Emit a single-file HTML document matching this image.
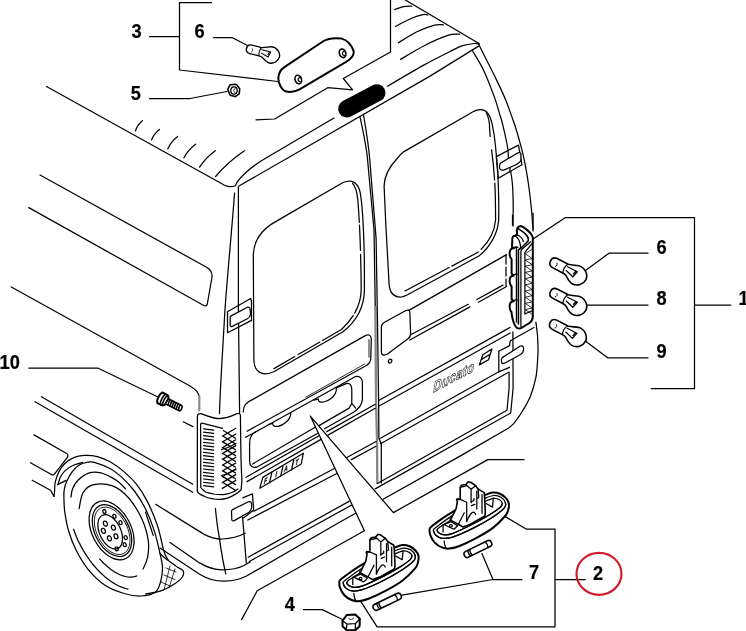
<!DOCTYPE html>
<html><head><meta charset="utf-8"><title>Diagram</title>
<style>
html,body{margin:0;padding:0;background:#fff;}
body{width:746px;height:631px;overflow:hidden;}
svg{display:block;}
text{filter:grayscale(1);}
.ln path,.ln line,.ln ellipse,.ln circle,.ln polyline{fill:none;stroke:#000;stroke-width:1.25;stroke-linecap:round;stroke-linejoin:round;}
.lb{font-family:"Liberation Sans",Arial,sans-serif;font-weight:bold;font-size:19.4px;fill:#000;stroke:#000;stroke-width:0.2px;}
.tk{stroke-width:2 !important;}
.md{stroke-width:1.6 !important;}
.th{stroke-width:0.8 !important;}
.wf{fill:#fff !important;}
.fiat{font-family:"Liberation Sans",Arial,sans-serif;font-weight:bold;font-size:6.2px;fill:#000;stroke:#000;stroke-width:0.25;}
.duc{font-family:"Liberation Sans",Arial,sans-serif;font-weight:bold;font-style:italic;font-size:13px;letter-spacing:0.45px;fill:#fff;stroke:#222;stroke-width:0.6;}
</style></head><body>
<svg width="746" height="631" viewBox="0 0 746 631">
<rect width="746" height="631" fill="#fff"/>
<g class="ln">
<path d="M211.5,2.5 H179.5 V70 L277.5,81.5"/>
<path d="M149.5,36.5 H179.5"/>
<path d="M213.5,37.5 H232 L249.5,46.5"/>
<path d="M149.5,98.5 H190 L227,91.5"/>
<path d="M256,119.8 L274.7,119 L327.7,87.7 L352.6,89.8 L343.3,78.5 L390.5,52 V0"/>
<path d="M533.1,239.1 L565.5,217.5 H694.5 V388.5 H651.2"/>
<path d="M694.5,305 H730.7"/>
<path d="M648,253.2 H609 L586.2,270"/>
<path d="M648,305.2 H587"/>
<path d="M648,357.9 H608 L585.3,341"/>
<path d="M28.8,368 H97.7 L159,397.5"/>
<path d="M303.5,609.6 H322.3 L342.5,619.5"/>
<path d="M521.9,579.5 H493 L481.9,553.6 M493,579.5 L402,595.1"/>
<path d="M505.2,516.6 L526.5,529.2 H555 V626.8 H377.1 L356.2,594.3"/>
<path d="M555,579.5 H585.3"/>
</g>
<text transform="translate(131.5,38) scale(0.94,1)" x="0" y="0" text-anchor="start" class="lb">3</text>
<text transform="translate(194.5,38) scale(0.94,1)" x="0" y="0" text-anchor="start" class="lb">6</text>
<text transform="translate(130.8,100) scale(0.94,1)" x="0" y="0" text-anchor="start" class="lb">5</text>
<text transform="translate(-0.5,369) scale(0.94,1)" x="0" y="0" text-anchor="start" class="lb">10</text>
<text transform="translate(656.5,253.7) scale(0.94,1)" x="0" y="0" text-anchor="start" class="lb">6</text>
<text transform="translate(656.5,304.6) scale(0.94,1)" x="0" y="0" text-anchor="start" class="lb">8</text>
<text transform="translate(656.5,358) scale(0.94,1)" x="0" y="0" text-anchor="start" class="lb">9</text>
<text transform="translate(738.5,304.6) scale(0.94,1)" x="0" y="0" text-anchor="start" class="lb">1</text>
<text transform="translate(529,578.8) scale(0.94,1)" x="0" y="0" text-anchor="start" class="lb">7</text>
<text transform="translate(593,579.5) scale(0.94,1)" x="0" y="0" text-anchor="start" class="lb">2</text>
<text transform="translate(284.7,611.3) scale(0.94,1)" x="0" y="0" text-anchor="start" class="lb">4</text>
<ellipse cx="599" cy="573.8" rx="22.5" ry="21" fill="none" stroke="#cf1f2e" stroke-width="2.2"/>
<g class="ln">
<path d="M46.5,86.5 L224.6,185.2 Q230,187.8 235,186"/>
<path d="M142.4,120.7 Q137.474,124.647 135.5,130.8"/>
<path d="M159.5,129.4 Q153.98000000000002,133.535 151.5,139.9"/>
<path d="M177.6,136.4 Q171.054,141.475 167.7,148.9"/>
<path d="M195.6,144.2 Q188.08200000000002,149.792 183.9,157.8"/>
<path d="M215.3,150.7 Q205.62199999999999,157.65499999999997 199.6,167.2"/>
<path d="M244.4,150.7 Q227.64800000000002,162.02599999999998 215.6,176.5"/>
<path d="M235.5,185.5 C238,178 252,166 266,158 L334,118"/>
<path d="M387.4,86.3 C393.5,82.7 413.8,70.7 424.2,64.9 C434.6,59.1 443.6,54.7 450.0,51.5 C456.4,48.3 458.5,47.0 462.6,45.7 C466.7,44.4 471.7,43.8 474.4,43.5 C477.1,43.2 478.1,44.1 478.8,44.2"/>
<path d="M238.5,186.3 L430,76.1 L479,45.9"/>
<path d="M405.3,0 L479,43.5"/>
<path d="M394.7,9.6 C396.2,9.1 400.8,7.2 403.6,6.6 C406.4,6.0 410.4,6.3 411.7,6.2"/>
<path d="M395.5,26.5 C397.8,25.3 404.9,21.2 409.5,19.2 C414.1,17.2 419.7,15.4 422.8,14.7 C425.9,14.0 427.0,14.9 427.9,15.0"/>
<path d="M398.4,42.8 C401.5,40.9 410.9,34.6 416.9,31.7 C422.9,28.8 430.2,26.2 434.6,25.1 C439.0,24.0 441.9,24.9 443.4,24.8"/>
<path d="M400.6,59.4 C404.5,57.1 416.3,49.7 424.2,45.7 C432.1,41.7 441.9,37.3 447.8,35.4 C453.7,33.5 457.6,34.4 459.6,34.2"/>
<path d="M479.0,43.5 C479.2,44.2 477.7,42.1 480.3,47.5 C482.9,52.9 490.3,67.0 494.5,75.8 C498.7,84.5 502.4,91.9 505.7,100.0 C509.0,108.1 512.0,116.9 514.5,124.3 C517.0,131.7 518.9,138.4 520.5,144.5 C522.1,150.6 523.0,153.8 524.4,160.6 C525.8,167.3 527.4,176.8 528.6,185.0 C529.8,193.2 530.8,202.3 531.5,210.0 C532.2,217.7 532.8,227.5 533.1,231.0"/>
<path d="M472.2,50.2 C474.1,53.6 480.0,62.5 483.7,70.4 C487.4,78.3 491.8,90.0 494.5,97.4 C497.2,104.8 498.6,110.8 499.9,115.0 C501.2,119.2 501.1,118.0 502.3,122.9 C503.5,127.8 506.0,138.9 507.1,144.5 C508.2,150.1 508.2,152.6 508.8,156.6 C509.4,160.6 509.8,164.0 510.4,168.7 C511.0,173.4 512.0,178.9 512.5,185.0 C513.0,191.1 513.1,198.2 513.2,205.0 C513.3,211.8 513.0,222.5 513.0,226.0"/>
<path class="wf" d="M496.3,156.6 L518.5,145.1 L521.9,164.7 L498.3,178.2 Z"/>
<path d="M508,150.6 L508.4,157.5 M509.6,172 L510.2,168"/>
<path class="wf" d="M500.3,163.3 L517.2,153.2 C519.5,152.3 520.7,152.7 520.9,153.9 L520.9,160.6 C519,163.5 516,164.8 513.1,166 L503.7,170.1 C501.5,170.5 500,169.8 499.6,168.1 C499.4,166 499.6,164.3 500.3,163.3 Z"/>
</g>
<line x1="346.9" y1="108.8" x2="376.8" y2="92.9" stroke="#000" stroke-width="17.4" stroke-linecap="round"/>
<g class="ln">
<path d="M40,175 L207,267.5 Q212.5,271 212,277 L207.3,304 Q206.5,307.5 202,304.5 L28.8,207.6"/>
<path d="M11.3,287 L190,386 Q198.5,391 199.3,397"/>
<path d="M199.3,396 V410.5" style="stroke:#8a8a8a;stroke-width:2.2"/>
<path d="M41.4,396.7 L192.7,484.2"/>
<path d="M35,401.7 L192.7,492.3"/>
<path d="M183.2,421.8 L192.9,426.6"/>
<path d="M238.4,186.8 V308 L239.6,412.5"/>
<path d="M234.6,193 C231,240 226,290 224.6,316 S220,390 219.5,413.5"/>
</g>
<g class="ln">
<path d="M253.3,254.4 C254,240 262,229 276.5,221.1 L343,182.5 C352,178.5 358,183 360.1,192.2 C362.5,205 364,240 364.4,263 V290 C364.2,305 358,320 343,331.8 L274.3,371.5 C262,377 254.5,372 253.9,360.8 Z"/>
<path d="M352.6,183.5 C355.5,186 357,192 357.8,200 C360,225 361,260 361.2,290 C361,303 355,317 341.5,329.5 L274,368.6" stroke-dasharray="40 3 25 4 60 3"/>
<path d="M404,151.6 L470,113.5 C474,111 478,109.6 480.8,109.7 C484,109.8 486,110.8 487.5,112.8 C490,116 491.3,120 492.2,124.3 C494,132 495,140 495.6,147.2 C497,160 498,175 498.3,185 C498.8,200 499,210 498.6,220.7 C497.5,234 490,247 479.3,255.7 L408,294.5 C406,295.5 404,296.5 401.6,297 C394,297.5 390,294 389.1,284.4 L385.8,224.3 L384.1,186 C384.3,176 388,168 397.6,158 C399.5,155.5 401.5,153.5 404,151.6 Z"/>
<path d="M405,291 L477.5,252.5 C487.5,244.5 494.5,232.5 495.6,220 C495.5,200 495.3,192 494.9,185 C494,170 493,160 491.6,149.9 M490.2,136.4 C489.8,130 489.3,127 489.5,124.3 C488.8,119 487.8,115.5 486.2,112.8" stroke-dasharray="50 3 30 4 70 3"/>
<path d="M359.9,116.3 C364,135 367,152 367.6,160 L374,230 L375.3,310"/>
<path d="M375.4,306 L376,400 L377,440 L377.3,483" style="stroke:#858585;stroke-width:2.3;stroke-linecap:butt"/>
<path d="M363.6,115.5 C367,135 369,150 369.8,160 L376.1,238.6 L377.3,310 L378.6,400 L378.9,438 L381.3,444 L381.3,483"/>
<path d="M243.3,412 C243,405 247,402 252.9,399.4 L364.4,336.1 C369,333.8 371.2,335 371.3,339.3 L370.8,358.6 C370.5,362 369,364 366,365.8 L247,431.2"/>
<path class="th" d="M364.8,364 L305.7,397.2"/>
<path d="M369,340 V357" style="stroke:#858585;stroke-width:1.8"/>
<path d="M255.5,432 L355.1,376.7 C359,375.6 361.8,377.5 362.4,381.5 L362.4,399.6 C362,404.5 359,408.5 353.6,412.2 L324.5,428.8"/>
<path d="M255.5,432 C251,434.5 249.6,438 249.6,443 V461.6 C249.8,466.5 252.5,468.2 257.4,466.8 L317.8,433.3"/>
<path d="M245.5,437.3 L255.5,432"/>
<path d="M337,387.6 L346.7,383.4 C350,382.8 351.6,385 351.8,390 V403.3 L355.7,408.1 M351.8,403.3 L349.1,408.1 L319,425.6"/>
<path d="M252.5,464 L315.5,427"/>
<path d="M246.1,477.3 L319.4,435.5 M247,481.6 L321,439.4"/>
<path d="M314.1,400.2 L318.4,399 C318.2,400.5 318.5,401.2 319.5,401.6 C321,402.3 322.5,402.3 323.8,402 C327,401.2 329,400 331,398.4 C333,397 334.3,395.3 335.2,393.6 C336.2,391.5 336.5,390 336.4,388.2"/>
<path d="M268.5,424.5 L272.8,423.3 C272.6,424.8 272.9,425.5 273.9,425.9 C275.4,426.6 276.9,426.6 278.2,426.3 C281.4,425.5 283.4,424.3 285.4,422.7 C287.4,421.3 288.7,419.6 289.6,417.9 C290.6,415.8 290.9,414.3 290.8,412.5"/>
<path d="M347.3,457.3 L376,441.5 M351.3,459.6 L376,446.3"/>
<path d="M381.4,327 C381.4,324.5 382.5,323.3 384.5,322.2 L405,311 C408.5,309.3 409.9,310 409.9,313 L410.6,334 C410.6,336.5 410,337.5 408,338.7 L387.5,354 C384,356 381.4,355 381.4,352.4 Z"/>
<ellipse cx="390.1" cy="361.1" rx="1.6" ry="2" transform="rotate(25 390.1 361.1)"/>
<path d="M408.9,310.4 L506.5,254.6"/>
<path d="M410.7,334.8 L468.2,304.3 M476.9,299.5 L503,285.1 M409.8,340 L469.9,306.9 M478.5,302.2 L506.5,286.5"/>
<path d="M379.1,400.3 L510.2,327.3 M379.1,406 L510.2,333"/>
<path d="M326.8,431.6 L375.3,404.3 M328,435.1 L375.3,408.3"/>
<path d="M379.1,439 L498.8,371.8"/>
<path d="M380.5,443.8 L509.1,372 L509.1,388.2 L507,410.3 L377,483.7"/>
<path d="M512.9,331.9 L513.1,388.2 L510.7,413 L375.2,488.9"/>
<path d="M535.9,322.2 C538,335 538.8,345 537.6,360 C537.3,366 537,371 536,376.9 C534.5,385 532.5,391 530.3,396.7 C527,404 524,409 520.3,414.5 C517.5,418.5 515.5,421.5 513.1,424.1 C511,426.3 509,427.8 507,429 L460,456.1 L383.1,499.3"/>
<path d="M498.8,351.3 V371.8 L509.5,367.3 M498.8,351.3 L509.5,345.6 L510.2,341 L516,337.5 L534,327.5"/>
<path class="wf" d="M502.2,357.6 L519.9,346.3 C522,345.3 523.5,346 523.6,348.7 C523.8,352 523,353 520.5,354.5 L504.6,363.2 C502.5,364 501.7,363.5 501.5,361.6 C501.3,359.5 501.5,358.3 502.2,357.6 Z"/>
<path d="M479.4,364.9 L482.8,354.7 L491.9,349 L488.5,359.7 Z M481.2,359.6 L490.2,354.2"/>
</g>
<text class="duc" transform="translate(433.2,392.6) rotate(-27.9) skewX(-30)" x="0" y="0">Ducato</text>
<g class="ln">
<path d="M253.9,511.3 L337.6,466.8 M247.8,520 L341.1,471.2"/>
<path d="M248.2,557.2 L349,501.4 M249.3,561.5 L352.3,504.7"/>
<path d="M242.6,517.4 L244.1,535.6 L246.3,562.9"/>
<path d="M155.7,504.3 L204.2,534.4 C212,538.5 217,539.2 222.4,539 C230,538.6 238,537 245.2,533.3"/>
<path d="M170,542.4 L199.6,562.9 C208,568 215,569.8 222.4,569.8 C230,569.8 238,568.5 244,565.5 L250,562"/>
<path d="M160,548 L199.6,574.3 C208,579.5 216,581.4 224.7,581.2 C233,581 240,579.3 246.5,576 L340,522 L357,512.5"/>
<path d="M215.4,508.3 C216.5,520 217.5,528 219,535.6 C221,550 223,562 225.8,573.9"/>
<path d="M242.7,497.8 L252.4,493.8 L253.7,509.9 L243.5,517.9"/>
<path class="wf" d="M232.5,509.6 L248.5,501.8 C250.5,501.2 251.6,502 251.7,504.5 C251.9,508.5 251.3,510.8 249,512.3 L234.3,520.6 C232.8,521.2 231.9,520.8 231.8,519.5 L231.5,511.5 C231.5,510.5 231.8,510 232.5,509.6 Z"/>
<path d="M227.5,311.8 L250.7,298.5 L251.5,301 V320.4 L227.5,332.8 Z"/>
<path class="wf" d="M230.7,316.1 L247.4,307.2 C249,306.8 250,307.6 250.1,309.1 L250.5,314.5 C250.3,316.5 249.3,317.8 247.4,318.8 L232.3,326.4 C231,326.8 230.3,326.3 230.2,325.3 V317.2 C230.2,316.6 230.4,316.3 230.7,316.1 Z"/>
</g>
<g class="ln">
<path class="wf" d="M197.4,416.2 C197.4,414.2 199,413.3 201,413.6 C207,416 213,418.4 218.6,418.6 C225,418.5 231,416.5 236.3,413.9 C238.5,413.2 240.2,413.3 240.4,415 L241,460 L241.9,481 L241.1,489.8 C239,492 237,493.5 234.7,494.6 C230,497.5 225,499.2 220.2,499.4 C213,499.4 208,498 204.1,496.2 C200,494.5 197.6,493 197.3,491.4 Z"/>
<path d="M200.6,424.5 C200.6,423.3 201.5,422.9 203,423.4 L222.6,428.3 M200.6,424.5 L200.8,487.5 C202,489.5 203.5,490.7 205.6,492 C211,494 217,494.8 223.3,494.7 C229,494 234,492 238,489"/>
<path d="M203.6,428.9 L213.6,430.1"/>
<path d="M203.6,432.2 L213.6,433.4"/>
<path d="M203.6,435.6 L213.6,436.8"/>
<path d="M203.6,438.9 L213.6,440.1"/>
<path d="M203.6,442.3 L213.6,443.5"/>
<path d="M203.6,445.6 L213.6,446.8"/>
<path d="M203.6,448.9 L213.6,450.1"/>
<path d="M203.6,452.3 L213.6,453.5"/>
<path d="M203.6,455.6 L213.6,456.8"/>
<path d="M203.6,459.0 L213.6,460.2"/>
<path d="M203.6,462.3 L213.6,463.5"/>
<path d="M203.6,465.6 L213.6,466.8"/>
<path d="M203.6,469.0 L213.6,470.2"/>
<path d="M203.6,472.3 L213.6,473.5"/>
<path d="M203.6,475.7 L213.6,476.9"/>
<path d="M203.6,479.0 L213.6,480.2"/>
<path d="M203.6,482.3 L213.6,483.5"/>
<path d="M203.6,485.7 L213.6,486.9"/>
<path d="M222.3,436.2 L235.8,428.2 M223.3,430.5 L235.5,438.2"/>
<path d="M222.3,442.0 L235.8,434.0 M223.3,436.3 L235.5,444.0"/>
<path d="M222.3,447.8 L235.8,439.8 M223.3,442.1 L235.5,449.8"/>
<path d="M222.3,453.6 L235.8,445.6 M223.3,447.9 L235.5,455.6"/>
<path d="M222.3,459.4 L235.8,451.4 M223.3,453.7 L235.5,461.4"/>
<path d="M222.3,465.2 L235.8,457.2 M223.3,459.5 L235.5,467.2"/>
<path d="M222.3,471.0 L235.8,463.0 M223.3,465.3 L235.5,473.0"/>
<path d="M222.3,476.8 L235.8,468.8 M223.3,471.1 L235.5,478.8"/>
<path d="M222.3,482.6 L235.8,474.6 M223.3,476.9 L235.5,484.6"/>
<path d="M222.3,488.4 L235.8,480.4 M223.3,482.7 L235.5,490.4"/>
<path d="M221.5,449.5 C226,448.5 231,446.5 236,443.5 M221.5,475.5 C226,474.5 231,472.5 236,469.5"/>
</g>
<g class="ln">
<path d="M512.5,215 V225 M533.1,213 V229" />
<path d="M506,255 V286" stroke-dasharray="9 3"/>
<path class="wf tk" d="M519,328.6 C516.5,328.6 514.5,325 513.5,322 C512.5,319 512,316.5 511.6,313.5 L511.6,312.2 C509.6,310.2 509,305.7 510.4,303.0 C511.2,301.7 512.3,301.2 513.6,301.4 L511.6,299.2 L511.6,286.5 C509.6,284.5 509,280 510.4,277.3 C511.2,276 512.3,275.5 513.6,275.7 L511.6,273.5 L511.6,259.1 C509.6,257.1 509,252.6 510.4,249.9 C511.2,248.6 512.3,248.1 513.6,248.29999999999998 L512,246.7 L512.4,237.8 C512.8,236.3 513.6,236 514.4,235.8 L517.2,235 L516.8,229.7 C517.5,227.5 519,226.3 520.5,226.1 C522.5,226.5 524,227.7 525.7,228.9 C527.5,230.3 529.3,231.8 530.6,233.3 C531.8,234.7 532.5,236 532.8,237.4 L532.8,316.5 C532.8,319.5 531.5,321.5 529.5,323 L521,328.2 C520.3,328.5 519.6,328.6 519,328.6 Z"/>
<path d="M510.6,302.8 C512.5,300.4 515,299.5 517.3,300.09999999999997"/>
<path d="M510.6,277.1 C512.5,274.7 515,273.8 517.3,274.4"/>
<path d="M510.6,249.7 C512.5,247.29999999999998 515,246.4 517.3,247.0"/>
<path class="md" d="M518.4,228.9 C520,229.8 521.8,231 523.3,232.1 C525,233.4 526.4,234.9 527.3,236.2 C528.3,237.8 528.5,239.5 528.1,241 L521.7,247.5 L518.4,249.9 V324"/>
<path d="M530.6,241.8 L521.7,249.5 L520.9,251 V326.5"/>
<path d="M532.2,243.4 L524.9,252.3 V314 L531.5,311"/>
<path d="M516.4,248.5 V322"/>
<path d="M514.4,235.8 C517,237 519,239.5 519.8,242.5 C520.3,244.5 520.5,246 520.6,247.5 M517.2,235 C520,236 522.5,238.5 523.3,241.5 M513.6,248.3 C515,247.6 516.5,247.2 518,247.5"/>
<path class="th" d="M532.4,249 L525.3,253.8 L532.2,258.5 L525.3,260.0 L532.2,264.7 L525.3,266.2 L532.2,270.9 L525.3,272.4 L532.2,277.1 L525.3,278.6 L532.2,283.3 L525.3,284.8 L532.2,289.5 L525.3,291.0 L532.2,295.7 L525.3,297.2 L532.2,301.9 L525.3,303.4 L532.2,308.1 L525.3,309.6 L532.2,314.3"/>
</g>
<g class="ln" transform="translate(577.2,275.3) rotate(27.5) scale(1.0)">
<path class="wf md" d="M-13,-5.6 C-9,-6.3 -6.5,-8.3 -3,-9.2 C4,-10.6 9.7,-5.3 9.7,0 C9.7,5.5 5,9.8 0,9.8 C-4,9.8 -6.5,7.8 -9.5,5.6 C-11.5,4.3 -13.5,4.6 -16,4.6 L-25,4.6 C-28.5,4.6 -30.3,2.5 -30.3,-0.5 C-30.3,-3.5 -28.5,-5.6 -25,-5.6 Z"/>
<path d="M-13.5,-5.4 C-15,-2 -15,2 -13.8,4.6"/>
<path d="M-12.5,-3.2 L-1.5,-3.2 L-3.2,3.3 L-12,0.8 M-3,-3 L-4,0.5"/>
<path class="th" d="M-23.5,-1.5 C-22.3,-0.5 -22.3,1.2 -23.5,2.2"/>
</g>
<g class="ln" transform="translate(577.2,305.8) rotate(27.5) scale(1.0)">
<path class="wf md" d="M-13,-5.6 C-9,-6.3 -6.5,-8.3 -3,-9.2 C4,-10.6 9.7,-5.3 9.7,0 C9.7,5.5 5,9.8 0,9.8 C-4,9.8 -6.5,7.8 -9.5,5.6 C-11.5,4.3 -13.5,4.6 -16,4.6 L-25,4.6 C-28.5,4.6 -30.3,2.5 -30.3,-0.5 C-30.3,-3.5 -28.5,-5.6 -25,-5.6 Z"/>
<path d="M-13.5,-5.4 C-15,-2 -15,2 -13.8,4.6"/>
<path d="M-12.5,-3.2 L-1.5,-3.2 L-3.2,3.3 L-12,0.8 M-3,-3 L-4,0.5"/>
<path class="th" d="M-23.5,-1.5 C-22.3,-0.5 -22.3,1.2 -23.5,2.2"/>
</g>
<g class="ln" transform="translate(576.8,336.9) rotate(27.5) scale(1.0)">
<path class="wf md" d="M-13,-5.6 C-9,-6.3 -6.5,-8.3 -3,-9.2 C4,-10.6 9.7,-5.3 9.7,0 C9.7,5.5 5,9.8 0,9.8 C-4,9.8 -6.5,7.8 -9.5,5.6 C-11.5,4.3 -13.5,4.6 -16,4.6 L-25,4.6 C-28.5,4.6 -30.3,2.5 -30.3,-0.5 C-30.3,-3.5 -28.5,-5.6 -25,-5.6 Z"/>
<path d="M-13.5,-5.4 C-15,-2 -15,2 -13.8,4.6"/>
<path d="M-12.5,-3.2 L-1.5,-3.2 L-3.2,3.3 L-12,0.8 M-3,-3 L-4,0.5"/>
<path class="th" d="M-23.5,-1.5 C-22.3,-0.5 -22.3,1.2 -23.5,2.2"/>
</g>
<g class="ln" transform="translate(271.4,54.9) rotate(14) scale(0.85)">
<path class="wf md" d="M-13,-5.6 C-9,-6.3 -6.5,-8.3 -3,-9.2 C4,-10.6 9.7,-5.3 9.7,0 C9.7,5.5 5,9.8 0,9.8 C-4,9.8 -6.5,7.8 -9.5,5.6 C-11.5,4.3 -13.5,4.6 -16,4.6 L-25,4.6 C-28.5,4.6 -30.3,2.5 -30.3,-0.5 C-30.3,-3.5 -28.5,-5.6 -25,-5.6 Z"/>
<path d="M-13.5,-5.4 C-15,-2 -15,2 -13.8,4.6"/>
<path d="M-12.5,-3.2 L-1.5,-3.2 L-3.2,3.3 L-12,0.8 M-3,-3 L-4,0.5"/>
<path class="th" d="M-23.5,-1.5 C-22.3,-0.5 -22.3,1.2 -23.5,2.2"/>
</g>
<g class="ln">
<path class="wf tk" d="M278.3,78.2 C278.5,73 281,69.5 284.4,67.2 L323.6,41 C328,38.5 334,37.5 341.7,38.6 C347,40 351.5,45 353.7,51.1 C354.3,55 351,59 345.7,62.1 L299.5,89.3 C295,91.8 290,92.5 285.4,91.3 C281.5,89.5 278.5,84 278.3,78.2 Z"/>
<ellipse class="md" cx="298.3" cy="79.5" rx="3.2" ry="4.4" transform="rotate(-18 298.3 79.5)"/>
<path d="M299.90000000000003,77.3 C297.40000000000003,78.2 297.40000000000003,81.1 300.2,81.9"/>
<ellipse class="md" cx="342.6" cy="53.3" rx="3.2" ry="4.4" transform="rotate(-18 342.6 53.3)"/>
<path d="M344.20000000000005,51.099999999999994 C341.70000000000005,52.0 341.70000000000005,54.9 344.5,55.699999999999996"/>
</g>
<g class="ln" transform="translate(233.7,90.3)">
<path class="wf md" d="M-6,-1 L-3.5,-5.6 L2.5,-6 L6,-1.5 L5.5,3.5 L1.5,6.3 L-3.5,5 Z"/>
<ellipse cx="0.3" cy="0.2" rx="3.2" ry="3.6"/>
<path class="th" d="M1.6,-1.6 C-0.5,-1.2 -0.8,1.4 1.4,2.2"/>
</g>
<g class="ln" transform="translate(163,399.3) rotate(27)">
<path class="wf tk" d="M-3.6,-5.8 L1.2,-5.8 C3,-5.5 4.2,-4.5 4.4,-3.2 L4.4,3.2 C4.2,4.5 3,5.5 1.2,5.8 L-3.6,5.8 C-5.6,3.5 -5.6,-3.5 -3.6,-5.8 Z"/>
<path class="md" d="M-0.3,-5.6 C-1.6,-3 -1.6,3 -0.3,5.6 M2,-5.2 C0.9,-3 0.9,3 2,5.2"/>
<path class="wf md" d="M4.4,-2.9 H19.8 C21.2,-1.6 21.2,1.6 19.8,2.9 H4.4 Z"/>
<path class="md" d="M6.0,-2.9 L7.1,2.9"/>
<path class="md" d="M8.3,-2.9 L9.4,2.9"/>
<path class="md" d="M10.6,-2.9 L11.7,2.9"/>
<path class="md" d="M12.9,-2.9 L14.0,2.9"/>
<path class="md" d="M15.2,-2.9 L16.3,2.9"/>
<path class="md" d="M17.5,-2.9 L18.6,2.9"/>
</g>
<g class="ln">
<path d="M54.0,496.4 C54.1,495.5 54.4,493.2 54.6,490.8 C54.8,488.4 54.6,485.1 55.3,481.9 C56.0,478.7 57.4,474.7 59.0,471.6 C60.6,468.5 62.5,465.8 64.9,463.5 C67.4,461.2 70.5,459.0 73.7,457.6 C76.9,456.2 80.2,455.6 84.1,455.4 C88.0,455.2 93.0,455.5 97.3,456.6 C101.6,457.7 105.7,459.4 110.0,461.8 C114.3,464.2 118.9,467.3 123.3,471.1 C127.7,474.9 132.5,479.2 136.6,484.4 C140.7,489.6 144.2,495.1 147.7,502.1 C151.2,509.1 155.1,518.7 157.7,526.5 C160.3,534.3 161.9,543.9 163.2,548.7 C164.5,553.5 164.5,553.3 165.4,555.3 C166.3,557.3 168.0,559.6 168.5,560.5"/>
<path d="M58.3,483.4 C58.7,482.3 59.4,478.9 60.5,476.8 C61.6,474.7 62.9,472.8 64.9,470.9 C66.9,469.0 69.3,467.1 72.3,465.7 C75.2,464.3 80.9,462.9 82.6,462.3"/>
<path d="M145.5,512.1 C146.1,513.8 147.5,518.2 148.8,522.1 C150.1,526.0 152.5,533.2 153.2,535.4"/>
<path d="M34,434.9 L66.2,453.2 C68.3,454.5 68.5,455.8 67,457.8 L55.8,472.4 C54.5,474.3 53.5,475.2 52.3,475 L30.5,462.8"/>
<path d="M32.2,480.2 L50.5,490.3 L54,496.4"/>
<path d="M57.5,484.6 L66,480.4"/>
<path d="M63.9,497.8 C63.8,494.1 63.8,492.6 64.2,490.0 C64.6,487.4 65.1,485.1 66.4,482.0 C67.8,478.9 70.1,474.5 72.3,471.6 C74.5,468.7 77.0,466.4 79.6,464.8 C82.2,463.2 85.5,462.6 88.0,462.2 C90.5,461.8 90.7,461.2 94.4,462.3 C98.1,463.4 105.5,466.1 110.0,468.5 C114.5,470.9 117.0,472.9 121.1,476.6 C125.2,480.4 130.3,485.6 134.4,491.0 C138.5,496.4 142.2,502.2 145.5,508.8 C148.8,515.5 151.9,523.5 154.3,530.9 C156.7,538.3 158.5,546.9 159.9,553.1 C161.3,559.3 162.4,563.2 162.5,568.0 C162.6,572.8 161.7,578.0 160.5,582.0 C159.3,586.0 158.6,590.0 155.3,592.3 C152.0,594.6 146.1,595.8 140.9,596.0 C135.7,596.2 130.2,595.3 124.2,593.5 C118.2,591.7 111.0,589.2 105.0,585.2 C99.0,581.2 93.1,575.4 88.3,569.6 C83.5,563.8 79.6,556.9 76.3,550.5 C73.0,544.1 70.6,537.7 68.7,531.3 C66.8,524.9 65.6,517.8 64.8,512.2 C64.0,506.6 64.0,501.5 63.9,497.8 Z"/>
<path d="M159.9,553.1 C160.6,553.9 161.5,555.4 164.3,557.6 C167.1,559.8 173.3,564.2 176.5,566.4 C179.7,568.6 182.3,569.1 183.2,571.0 C184.1,572.9 183.5,575.3 182.0,577.5 C180.5,579.7 177.5,582.0 174.0,584.2 C170.5,586.4 165.8,589.1 161.0,590.8 C156.2,592.4 148.1,593.5 145.5,594.1"/>
<path d="M71.0,497.0 C71.2,495.7 71.4,491.8 72.5,489.0 C73.6,486.2 75.0,483.1 77.7,480.5 C80.4,477.9 84.8,474.5 88.5,473.2 C92.2,471.9 96.4,472.0 100.0,472.6 C103.6,473.2 106.8,475.0 110.0,476.6 C113.2,478.2 116.3,480.2 118.9,482.2 C121.5,484.2 124.4,487.7 125.5,488.8"/>
<path d="M79.1,508.7 C79.8,506.0 80.6,496.6 83.1,492.6 C85.5,488.6 88.9,485.7 93.8,484.6 C98.7,483.5 106.8,483.7 112.6,485.9 C118.4,488.1 123.8,492.4 128.7,498.0 C133.6,503.6 138.8,512.2 142.1,519.4 C145.4,526.5 147.4,534.5 148.3,540.9 C149.2,547.3 148.4,553.0 147.5,557.7 C146.6,562.4 143.8,567.1 143.0,569.0"/>
<path d="M128.0,589.1 L125.5,588.5 L123.0,587.7 L120.4,586.7 L117.8,585.5 L115.1,584.0 L112.5,582.4 L109.8,580.6 L107.1,578.6 L104.5,576.4 L101.9,574.0 L99.3,571.5 L96.8,568.8 L94.3,566.0 L91.9,563.1 L89.6,560.0 L87.4,556.9 L85.3,553.6 L83.2,550.3 L81.3,546.9 L79.5,543.4 L77.8,539.9 L76.3,536.4 L74.9,532.8 L73.6,529.3"/>
<path d="M136.7,575.9 L135.5,576.4 L134.2,576.7 L132.9,576.9 L131.5,577.1 L130.0,577.1 L128.6,577.0 L127.1,576.8 L125.5,576.5 L124.0,576.1 L122.4,575.6 L120.8,575.0 L119.1,574.3 L117.5,573.5 L115.8,572.6 L114.2,571.7 L112.5,570.6 L110.9,569.4 L109.2,568.1 L107.6,566.8 L106.0,565.3 L104.3,563.8 L102.7,562.2 L101.2,560.6 L99.6,558.9"/>
<ellipse cx="111.6" cy="530.4" rx="19.5" ry="31.5" transform="rotate(-27 111.6 530.4)"/>
<ellipse cx="112" cy="530.6" rx="17" ry="27.8" transform="rotate(-27 112 530.6)"/>
<ellipse class="th" cx="112.2" cy="530.8" rx="15.3" ry="25.5" transform="rotate(-27 112.2 530.8)"/>
<ellipse cx="110.2" cy="531.8" rx="10.6" ry="18.3" transform="rotate(-25 110.2 531.8)"/>
<ellipse cx="105.4" cy="523.6" rx="1.9" ry="2.6" transform="rotate(-20 105.4 523.6)"/>
<ellipse cx="113.4" cy="527.6" rx="1.9" ry="2.6" transform="rotate(-20 113.4 527.6)"/>
<ellipse cx="103.4" cy="530.9" rx="1.9" ry="2.6" transform="rotate(-20 103.4 530.9)"/>
<ellipse cx="109.4" cy="538.4" rx="1.9" ry="2.6" transform="rotate(-20 109.4 538.4)"/>
<ellipse cx="116" cy="536.4" rx="1.9" ry="2.6" transform="rotate(-20 116 536.4)"/>
<ellipse cx="104.4" cy="511.5" rx="1.5" ry="2" transform="rotate(-20 104.4 511.5)"/>
<ellipse cx="114.4" cy="516.3" rx="1.5" ry="2" transform="rotate(-20 114.4 516.3)"/>
<ellipse cx="120.5" cy="522.6" rx="1.5" ry="2" transform="rotate(-20 120.5 522.6)"/>
<ellipse cx="125.7" cy="537.6" rx="1.5" ry="2" transform="rotate(-20 125.7 537.6)"/>
<ellipse cx="124.7" cy="544.7" rx="1.5" ry="2" transform="rotate(-20 124.7 544.7)"/>
<ellipse cx="116.6" cy="548.9" rx="1.5" ry="2" transform="rotate(-20 116.6 548.9)"/>
<path class="th" d="M166,568 L176,572 M164,575 L175,579.5 M161,582 L171,586.5 M170,566 L164,590 M175,569 L169,588"/>
</g>
<g class="ln">
<path d="M364.4,530.8 L310.3,416.1 L393.4,512.6 Z" style="fill:#fff;stroke:none"/>
<path d="M241.6,619.6 L257.2,590.8 L364.4,530.8 L310.3,416.1 L393.4,512.6 L487.8,459.6 H524"/>
</g>
<g class="ln" transform="translate(0,0)">
<path class="wf tk" d="M429.6,529.9 C429.7,528.5 429.1,528.6 431.0,526.9 C432.9,525.2 437.1,522.1 440.7,519.6 C444.3,517.1 447.8,514.6 452.7,511.8 C457.6,508.9 464.6,505.3 470.0,502.5 C475.4,499.7 481.5,496.6 485.3,494.9 C489.1,493.2 490.2,492.7 492.6,492.5 C495.0,492.3 497.6,492.8 499.8,493.7 C502.0,494.6 504.3,496.3 505.8,497.9 C507.3,499.5 508.4,501.4 508.8,503.4 C509.2,505.4 508.8,507.9 508.2,510.0 C507.6,512.1 507.8,513.0 505.2,516.0 C502.6,519.0 497.5,524.4 492.6,528.1 C487.7,531.8 481.3,535.3 475.7,538.3 C470.1,541.3 463.2,544.5 458.8,546.2 C454.4,547.9 451.9,548.4 449.1,548.6 C446.3,548.8 444.3,548.4 441.9,547.4 C439.5,546.4 436.6,544.6 434.7,542.6 C432.8,540.6 431.2,537.4 430.4,535.3 C429.5,533.2 429.5,531.3 429.6,529.9 Z"/>
<path d="M433.4,530.5 C433.4,529.2 432.7,530.0 435.9,527.5 C439.1,525.0 447.0,519.0 452.7,515.4 C458.4,511.8 464.5,508.7 470.0,505.8 C475.5,502.9 481.9,499.6 485.9,497.9 C489.9,496.2 491.3,495.6 493.8,495.5 C496.3,495.4 499.1,496.2 501.0,497.3 C502.9,498.4 504.6,500.4 505.2,502.1 C505.8,503.8 506.7,505.1 504.6,507.6 C502.5,510.1 497.8,513.8 492.6,517.2 C487.4,520.6 480.0,524.8 473.3,528.1 C466.6,531.4 457.9,535.4 452.7,537.1 C447.5,538.8 444.7,538.6 441.9,538.3 C439.1,538.0 437.3,536.6 435.9,535.3 C434.5,534.0 433.4,531.8 433.4,530.5 Z"/>
<path d="M437.0,530.0 C437.2,529.0 437.2,528.9 440.0,527.0 C442.8,525.1 448.5,521.5 453.5,518.5 C458.5,515.5 464.5,511.9 470.0,509.0 C475.5,506.1 482.5,502.6 486.5,500.8 C490.5,499.0 491.6,498.5 493.8,498.3 C496.0,498.1 498.1,498.9 499.5,499.8 C500.9,500.7 502.2,502.2 502.3,503.5 C502.4,504.8 502.1,505.7 500.0,507.5 C497.9,509.3 494.7,511.7 490.0,514.5 C485.3,517.3 478.2,521.4 472.0,524.5 C465.8,527.6 457.6,531.6 453.0,533.3 C448.4,535.0 446.8,534.8 444.5,534.8 C442.2,534.8 440.2,533.8 439.0,533.0 C437.8,532.2 436.8,531.0 437.0,530.0 Z"/>
<path d="M444.1,540.8 C444.3,544 445,546.5 446.2,548.5"/>
<path d="M443.1,532 V524.8 L451,521.6 L457.6,525.7 L454,529.3 L444.9,525 M451,521.6 L450,518.5"/>
<ellipse cx="450.9" cy="525.9" rx="1.4" ry="1.2"/>
<path d="M486.1,503.5 L492.5,507.1 L493.4,497.8"/>
<path class="wf md" d="M450.5,520.1 L456.2,508.3 L457.4,501.1 L456.6,500.3 L457,499 L460.2,499.4 L460.2,487.3 L461.4,485.3 L465.9,484.5 L468.3,481.7 L471.1,482.5 L475.6,485.7 L478,488.9 L484.1,492.6 L484.5,495.4 L485.3,511.6 L485,516 L470,524.5 L463,527 L458.6,524.5 Z"/>
<path d="M460.2,487.3 L467.1,485.7 L471.1,489.3 V502.7 M465.9,484.5 L467.1,485.7 M471.1,489.3 L475.6,485.7"/>
<path d="M457,499 L460.2,499.4 L466.7,502.3 V521.5 M464.3,512.8 L458.6,523.7"/>
<path d="M476.8,491 V509.1 M482,494.6 V513.2 M478,488.9 L478.8,497 L478,498"/>
<path d="M471.1,502 L474,500.3 V498.5 M471.5,505.7 L474.8,504.4"/>
<path d="M466.7,521.3 C468,518 469.5,515.5 470.7,514 C472,512.5 473.2,512 474,512.4 C475,513 475.5,513.5 475.6,514.5"/>
<path d="M505.2,502.1 C505.1,503.0 506.7,505.1 504.6,507.6 C502.5,510.1 497.8,513.8 492.6,517.2 C487.4,520.6 480.0,524.8 473.3,528.1 C466.6,531.4 457.9,535.4 452.7,537.1 C447.5,538.8 444.7,538.6 441.9,538.3 C439.1,538.0 437.3,536.6 435.9,535.3 C434.5,534.0 433.8,531.3 433.4,530.5"/>
<path d="M502.3,503.5 C501.9,504.2 502.1,505.7 500.0,507.5 C497.9,509.3 494.7,511.7 490.0,514.5 C485.3,517.3 478.2,521.4 472.0,524.5 C465.8,527.6 457.6,531.6 453.0,533.3 C448.4,535.0 446.8,534.8 444.5,534.8 C442.2,534.8 440.2,533.8 439.0,533.0 C437.8,532.2 437.3,530.5 437.0,530.0"/>
</g>
<g class="ln" transform="translate(-90.3,52.6)">
<path class="wf tk" d="M429.6,529.9 C429.7,528.5 429.1,528.6 431.0,526.9 C432.9,525.2 437.1,522.1 440.7,519.6 C444.3,517.1 447.8,514.6 452.7,511.8 C457.6,508.9 464.6,505.3 470.0,502.5 C475.4,499.7 481.5,496.6 485.3,494.9 C489.1,493.2 490.2,492.7 492.6,492.5 C495.0,492.3 497.6,492.8 499.8,493.7 C502.0,494.6 504.3,496.3 505.8,497.9 C507.3,499.5 508.4,501.4 508.8,503.4 C509.2,505.4 508.8,507.9 508.2,510.0 C507.6,512.1 507.8,513.0 505.2,516.0 C502.6,519.0 497.5,524.4 492.6,528.1 C487.7,531.8 481.3,535.3 475.7,538.3 C470.1,541.3 463.2,544.5 458.8,546.2 C454.4,547.9 451.9,548.4 449.1,548.6 C446.3,548.8 444.3,548.4 441.9,547.4 C439.5,546.4 436.6,544.6 434.7,542.6 C432.8,540.6 431.2,537.4 430.4,535.3 C429.5,533.2 429.5,531.3 429.6,529.9 Z"/>
<path d="M433.4,530.5 C433.4,529.2 432.7,530.0 435.9,527.5 C439.1,525.0 447.0,519.0 452.7,515.4 C458.4,511.8 464.5,508.7 470.0,505.8 C475.5,502.9 481.9,499.6 485.9,497.9 C489.9,496.2 491.3,495.6 493.8,495.5 C496.3,495.4 499.1,496.2 501.0,497.3 C502.9,498.4 504.6,500.4 505.2,502.1 C505.8,503.8 506.7,505.1 504.6,507.6 C502.5,510.1 497.8,513.8 492.6,517.2 C487.4,520.6 480.0,524.8 473.3,528.1 C466.6,531.4 457.9,535.4 452.7,537.1 C447.5,538.8 444.7,538.6 441.9,538.3 C439.1,538.0 437.3,536.6 435.9,535.3 C434.5,534.0 433.4,531.8 433.4,530.5 Z"/>
<path d="M437.0,530.0 C437.2,529.0 437.2,528.9 440.0,527.0 C442.8,525.1 448.5,521.5 453.5,518.5 C458.5,515.5 464.5,511.9 470.0,509.0 C475.5,506.1 482.5,502.6 486.5,500.8 C490.5,499.0 491.6,498.5 493.8,498.3 C496.0,498.1 498.1,498.9 499.5,499.8 C500.9,500.7 502.2,502.2 502.3,503.5 C502.4,504.8 502.1,505.7 500.0,507.5 C497.9,509.3 494.7,511.7 490.0,514.5 C485.3,517.3 478.2,521.4 472.0,524.5 C465.8,527.6 457.6,531.6 453.0,533.3 C448.4,535.0 446.8,534.8 444.5,534.8 C442.2,534.8 440.2,533.8 439.0,533.0 C437.8,532.2 436.8,531.0 437.0,530.0 Z"/>
<path d="M444.1,540.8 C444.3,544 445,546.5 446.2,548.5"/>
<path d="M443.1,532 V524.8 L451,521.6 L457.6,525.7 L454,529.3 L444.9,525 M451,521.6 L450,518.5"/>
<ellipse cx="450.9" cy="525.9" rx="1.4" ry="1.2"/>
<path d="M486.1,503.5 L492.5,507.1 L493.4,497.8"/>
<path class="wf md" d="M450.5,520.1 L456.2,508.3 L457.4,501.1 L456.6,500.3 L457,499 L460.2,499.4 L460.2,487.3 L461.4,485.3 L465.9,484.5 L468.3,481.7 L471.1,482.5 L475.6,485.7 L478,488.9 L484.1,492.6 L484.5,495.4 L485.3,511.6 L485,516 L470,524.5 L463,527 L458.6,524.5 Z"/>
<path d="M460.2,487.3 L467.1,485.7 L471.1,489.3 V502.7 M465.9,484.5 L467.1,485.7 M471.1,489.3 L475.6,485.7"/>
<path d="M457,499 L460.2,499.4 L466.7,502.3 V521.5 M464.3,512.8 L458.6,523.7"/>
<path d="M476.8,491 V509.1 M482,494.6 V513.2 M478,488.9 L478.8,497 L478,498"/>
<path d="M471.1,502 L474,500.3 V498.5 M471.5,505.7 L474.8,504.4"/>
<path d="M466.7,521.3 C468,518 469.5,515.5 470.7,514 C472,512.5 473.2,512 474,512.4 C475,513 475.5,513.5 475.6,514.5"/>
<path d="M505.2,502.1 C505.1,503.0 506.7,505.1 504.6,507.6 C502.5,510.1 497.8,513.8 492.6,517.2 C487.4,520.6 480.0,524.8 473.3,528.1 C466.6,531.4 457.9,535.4 452.7,537.1 C447.5,538.8 444.7,538.6 441.9,538.3 C439.1,538.0 437.3,536.6 435.9,535.3 C434.5,534.0 433.8,531.3 433.4,530.5"/>
<path d="M502.3,503.5 C501.9,504.2 502.1,505.7 500.0,507.5 C497.9,509.3 494.7,511.7 490.0,514.5 C485.3,517.3 478.2,521.4 472.0,524.5 C465.8,527.6 457.6,531.6 453.0,533.3 C448.4,535.0 446.8,534.8 444.5,534.8 C442.2,534.8 440.2,533.8 439.0,533.0 C437.8,532.2 437.3,530.5 437.0,530.0"/>
</g>
<g class="ln" transform="translate(464.4,555.6) rotate(-26.1)">
<path class="wf md" d="M3,-3.2 H27.1 C29.6,-3.2 30.1,-1.5 30.1,0 C30.1,1.5 29.6,3.2 27.1,3.2 H3 C0.5,3.2 0,1.5 0,0 C0,-1.5 0.5,-3.2 3,-3.2 Z"/>
<path d="M5.5,-3.2 C4.6,-1.5 4.6,1.5 5.5,3.2 M24.6,-3.2 C25.5,-1.5 25.5,1.5 24.6,3.2 M7.5,-3.2 C6.6,-1.5 6.6,1.5 7.5,3.2"/>
</g>
<g class="ln" transform="translate(373.4,608.4) rotate(-25.6)">
<path class="wf md" d="M3,-3.2 H27.6 C30.1,-3.2 30.6,-1.5 30.6,0 C30.6,1.5 30.1,3.2 27.6,3.2 H3 C0.5,3.2 0,1.5 0,0 C0,-1.5 0.5,-3.2 3,-3.2 Z"/>
<path d="M5.5,-3.2 C4.6,-1.5 4.6,1.5 5.5,3.2 M25.1,-3.2 C26.0,-1.5 26.0,1.5 25.1,3.2 M7.5,-3.2 C6.6,-1.5 6.6,1.5 7.5,3.2"/>
</g>
<g class="ln" transform="translate(351.2,622.3)">
<path class="wf tk" d="M-8.8,-1.5 L-4.5,-7.2 L4,-7.8 L8.6,-3.5 L8.4,4 L4,8 L-5,7.6 L-8.6,4 Z"/>
<path d="M-8.8,-1.5 L-4.2,1.8 L4.3,1.2 L8.6,-3.5 M-4.2,1.8 L-5,7.6 M4.3,1.2 L4,8"/>
<path class="th" d="M-2.5,-4.2 C-2,-2 2,-2.2 2.6,-4.6"/>
</g>
<g class="ln">
<path class="wf" d="M259.8,488.2 L262.8,477.4 L303.4,453.2 L301.2,464 Z"/>
<path d="M269.5,482.6 L271.8,472.9 M280.7,475.9 L282.9,466.6 M291.5,470 L293.7,459.9"/>
</g>
<text class="fiat" transform="translate(263.6,484.4) rotate(-30.8) skewX(-42)" x="0" y="0">F</text>
<text class="fiat" transform="translate(275.0,477.6) rotate(-30.8) skewX(-42)" x="0" y="0">I</text>
<text class="fiat" transform="translate(283.6,472.4) rotate(-30.8) skewX(-42)" x="0" y="0">A</text>
<text class="fiat" transform="translate(294.8,465.9) rotate(-30.8) skewX(-42)" x="0" y="0">T</text>
</svg>
</body></html>
